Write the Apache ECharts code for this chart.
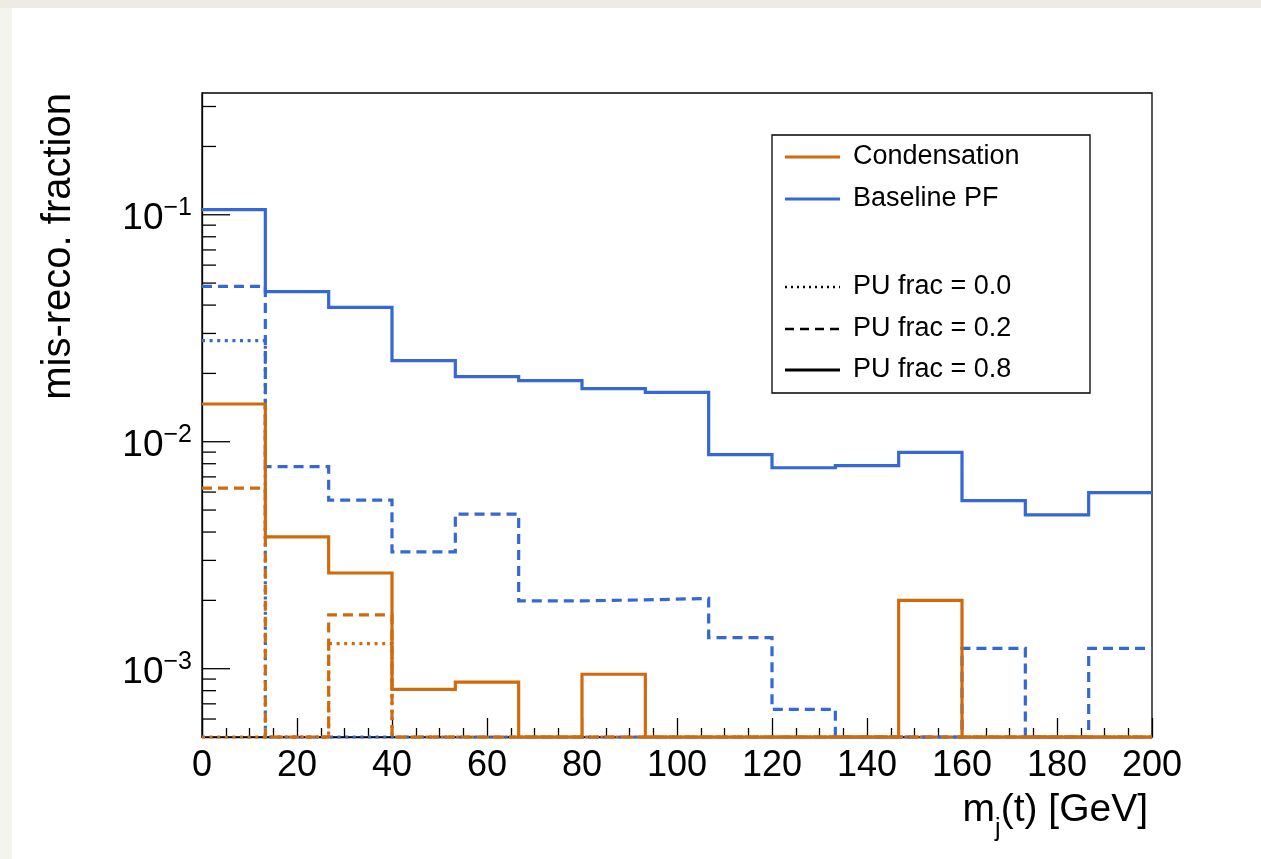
<!DOCTYPE html>
<html><head><meta charset="utf-8">
<script src="https://cdn.jsdelivr.net/npm/echarts@6/dist/echarts.min.js"></script>
<style>html,body{margin:0;padding:0;background:#fff}#c{width:1261px;height:859px}</style>
</head><body><div id="c"></div>
<script>
// ---------- data ----------
const nBins = 15;
const xMin = 0, xMax = 200;
const binEdges = Array.from({length: nBins + 1}, (_, i) => xMin + i * (xMax - xMin) / nBins);
const yMin = 5e-4, yMax = 0.344;
const yMajorTicks = [1e-3, 1e-2, 1e-1];
const yMajorExp = ['\u22123', '\u22122', '\u22121'];
const yMinorTicks = [6e-4, 7e-4, 8e-4, 9e-4,
  2e-3, 3e-3, 4e-3, 5e-3, 6e-3, 7e-3, 8e-3, 9e-3,
  2e-2, 3e-2, 4e-2, 5e-2, 6e-2, 7e-2, 8e-2, 9e-2,
  2e-1, 3e-1];

// Condensation
const condPU00 = [0, 0, 0.00129, 0, 0, 0, 0, 0, 0, 0, 0, 0, 0, 0, 0];
const condPU02 = [0.00625, 0, 0.001726, 0, 0, 0, 0, 0, 0, 0, 0, 0, 0, 0, 0];
const condPU08 = [0.01466, 0.00381, 0.00264, 0.00081, 0.000873, 0, 0.000945, 0, 0, 0, 0, 0.0020, 0, 0, 0];
// Baseline PF
const basePU00 = [0.0279, 0, 0, 0, 0, 0, 0, 0, 0, 0, 0, 0, 0, 0, 0];
const basePU02 = [0.0484, 0.00776, 0.00553, 0.00327, 0.0048, 0.00199, 0.00201, 0.00204, 0.00137, 0.000662, 0, 0, 0.00123, 0, 0.00123];
const basePU08 = [0.1054, 0.0459, 0.0391, 0.02275, 0.01935, 0.01858, 0.01714, 0.0165, 0.00877, 0.00768, 0.00784, 0.00897, 0.0055, 0.00476, 0.00597];

const legendItems = ['Condensation', 'Baseline PF', 'PU frac = 0.0', 'PU frac = 0.2', 'PU frac = 0.8'];

// ---------- styles ----------
const FONT = "'Liberation Sans', Arial, Helvetica, sans-serif";
const ORANGE = '#d06a0c';
const BLUE = '#3568d2';
const DOT = [3, 4.6];
const DASH = [10, 6];
const LW = 3.2;

function stepData(vals) {
  const pts = vals.map((v, i) => [binEdges[i], Math.max(v, yMin)]);
  pts.push([binEdges[nBins], Math.max(vals[nBins - 1], yMin)]);
  return pts;
}
function hist(name, vals, color, dash) {
  return {
    type: 'line', name, data: stepData(vals), step: 'end', symbol: 'none',
    clip: false, silent: true, animation: false,
    lineStyle: {color, width: LW, type: dash, cap: 'butt', join: 'miter'}
  };
}

const tickData = [];
yMajorTicks.forEach((v, i) => tickData.push([0, v, 1, i]));
yMinorTicks.forEach(v => tickData.push([0, v, 0, -1]));

const chart = echarts.init(document.getElementById('c'), null, {renderer: 'canvas'});
const option = {
  backgroundColor: '#fff',
  animation: false,
  grid: {left: 202, right: 109, top: 93, bottom: 122, show: true, borderColor: '#000', borderWidth: 1.3, backgroundColor: 'transparent'},
  xAxis: {
    type: 'value', min: xMin, max: xMax, interval: 20,
    axisLine: {show: true, onZero: false, lineStyle: {color: '#000', width: 1.3}},
    axisTick: {show: true, inside: true, length: 19, lineStyle: {color: '#000', width: 1.3}},
    minorTick: {show: true, splitNumber: 4, length: 9, lineStyle: {color: '#000', width: 1.3}},
    splitLine: {show: false}, minorSplitLine: {show: false},
    axisLabel: {color: '#000', fontSize: 36, fontFamily: FONT, margin: 11},
    name: '{a|m}{s|j}{a|(t) [GeV]}',
    nameLocation: 'end', nameGap: 0, nameMoveOverlap: false,
    nameTextStyle: {
      align: 'right', verticalAlign: 'top', padding: [42, 4, 0, 0],
      rich: {
        a: {fontSize: 39, lineHeight: 39, fontFamily: FONT, color: '#000'},
        s: {fontSize: 25, lineHeight: 63, verticalAlign: 'bottom', fontFamily: FONT, color: '#000'}
      }
    }
  },
  yAxis: {
    type: 'log', logBase: 10, min: yMin, max: yMax,
    axisLine: {show: true, lineStyle: {color: '#000', width: 1.3}},
    axisTick: {show: false}, axisLabel: {show: false},
    splitLine: {show: false}, minorTick: {show: false}, minorSplitLine: {show: false}
  },
  series: [
    hist('Baseline PF PU 0.0', basePU00, BLUE, DOT),
    hist('Baseline PF PU 0.2', basePU02, BLUE, DASH),
    hist('Baseline PF PU 0.8', basePU08, BLUE, 'solid'),
    hist('Condensation PU 0.0', condPU00, ORANGE, DOT),
    hist('Condensation PU 0.2', condPU02, ORANGE, DASH),
    hist('Condensation PU 0.8', condPU08, ORANGE, 'solid'),
    {
      type: 'custom', name: 'yticks', data: tickData, silent: true, clip: false, z: 5,
      encode: {x: 0, y: 1},
      renderItem: function (params, api) {
        const v = api.value(1);
        const major = api.value(2) === 1;
        const p = api.coord([xMin, v]);
        const children = [{
          type: 'line',
          shape: {x1: p[0], y1: p[1], x2: p[0] + (major ? 28 : 14), y2: p[1]},
          style: {stroke: '#000', lineWidth: 1.3}
        }];
        if (major) {
          const idx = api.value(3);
          children.push({
            type: 'text',
            style: {
              text: '{b|10}{s|' + yMajorExp[idx] + '}',
              x: p[0] - 10, y: p[1] + 4, align: 'right', verticalAlign: 'middle',
              rich: {
                b: {fontSize: 37, lineHeight: 46, fontFamily: FONT, fill: '#000'},
                s: {fontSize: 25, lineHeight: 46, verticalAlign: 'top', fontFamily: FONT, fill: '#000'}
              }
            }
          });
        }
        return {type: 'group', children};
      }
    }
  ],
  graphic: [
    {type: 'rect', shape: {x: 0, y: 0, width: 1261, height: 8}, style: {fill: '#ecece5'}, silent: true},
    {type: 'rect', shape: {x: 0, y: 8, width: 12, height: 851}, style: {fill: '#f4f4ef'}, silent: true},
    {
      type: 'text', x: 79, y: 93, rotation: Math.PI / 2, silent: true,
      style: {text: 'mis-reco. fraction', align: 'right', verticalAlign: 'bottom', font: '40px ' + FONT, fill: '#000'}
    },
    {
      type: 'group', silent: true,
      children: [
        {type: 'rect', shape: {x: 772, y: 135, width: 318, height: 258}, style: {fill: '#fff', stroke: '#000', lineWidth: 1.3}},
        {type: 'line', shape: {x1: 785, y1: 157, x2: 840, y2: 157}, style: {stroke: ORANGE, lineWidth: 3}},
        {type: 'line', shape: {x1: 785, y1: 199, x2: 840, y2: 199}, style: {stroke: BLUE, lineWidth: 3}},
        {type: 'line', shape: {x1: 785, y1: 287, x2: 840, y2: 287}, style: {stroke: '#000', lineWidth: 2.5, lineDash: [2, 4]}},
        {type: 'line', shape: {x1: 785, y1: 329, x2: 840, y2: 329}, style: {stroke: '#000', lineWidth: 2.5, lineDash: [9, 6]}},
        {type: 'line', shape: {x1: 785, y1: 370, x2: 840, y2: 370}, style: {stroke: '#000', lineWidth: 3}},
        {type: 'text', style: {text: legendItems[0], x: 853, y: 157, verticalAlign: 'middle', font: '27px ' + FONT, fill: '#000'}},
        {type: 'text', style: {text: legendItems[1], x: 853, y: 199, verticalAlign: 'middle', font: '27px ' + FONT, fill: '#000'}},
        {type: 'text', style: {text: legendItems[2], x: 853, y: 287, verticalAlign: 'middle', font: '27px ' + FONT, fill: '#000'}},
        {type: 'text', style: {text: legendItems[3], x: 853, y: 329, verticalAlign: 'middle', font: '27px ' + FONT, fill: '#000'}},
        {type: 'text', style: {text: legendItems[4], x: 853, y: 370, verticalAlign: 'middle', font: '27px ' + FONT, fill: '#000'}}
      ]
    }
  ]
};
chart.setOption(option);
</script></body></html>
